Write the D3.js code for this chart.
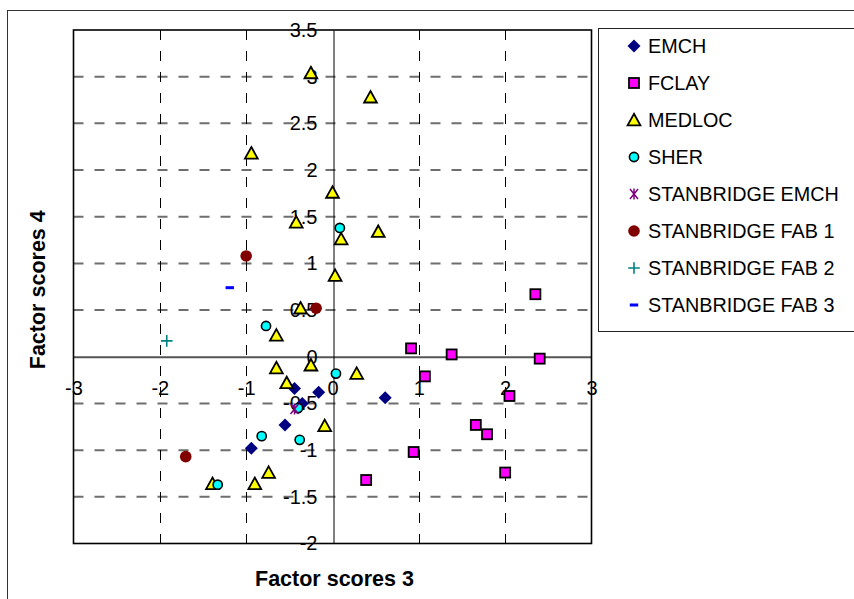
<!DOCTYPE html>
<html>
<head>
<meta charset="utf-8">
<script src="https://cdn.jsdelivr.net/npm/d3@7"></script>
<style>
  html, body { margin: 0; padding: 0; background: #fff; }
  svg { display: block; font-family: Arial, "Liberation Sans", sans-serif; }
</style>
</head>
<body>
<svg id="chart" width="854" height="599"></svg>
<script>
// Factor score pairs [factor 3, factor 4] for each group
const emch = [[-0.44, -0.34], [-0.16, -0.38], [-0.35, -0.50], [-0.55, -0.73], [-0.94, -0.98], [0.61, -0.44]];
const fclay = [[2.35, 0.67], [0.91, 0.09], [1.38, 0.025], [2.40, -0.02], [1.07, -0.21], [2.05, -0.42],
               [1.66, -0.73], [1.79, -0.83], [0.94, -1.02], [2.00, -1.24], [0.39, -1.32]];
const medloc = [[-0.25, 3.04], [0.44, 2.78], [-0.94, 2.18], [0.00, 1.76], [-0.42, 1.44], [0.10, 1.26],
                [0.53, 1.34], [0.03, 0.87], [-0.37, 0.52], [-0.65, 0.23], [-0.65, -0.12], [-0.25, -0.09],
                [0.28, -0.18], [-0.53, -0.28], [-0.09, -0.74], [-0.74, -1.24], [-0.90, -1.36], [-1.39, -1.36]];
const sher = [[0.085, 1.38], [-0.77, 0.33], [0.04, -0.18], [-0.82, -0.85], [-0.38, -0.89], [-1.33, -1.37], [-0.40, -0.55]];
const stanEmch = [[-0.44, -0.56]];
const stanFab1 = [[-1.00, 1.08], [-0.19, 0.52], [-1.70, -1.07]];
const stanFab2 = [[-1.92, 0.17]];
const stanFab3 = [[-1.19, 0.74]];

const seriesNames = ["EMCH", "FCLAY", "MEDLOC", "SHER", "STANBRIDGE EMCH", "STANBRIDGE FAB 1", "STANBRIDGE FAB 2", "STANBRIDGE FAB 3"];
const seriesData = [emch, fclay, medloc, sher, stanEmch, stanFab1, stanFab2, stanFab3];

const xTicks = [-3, -2, -1, 0, 1, 2, 3];
const yTicks = [-2, -1.5, -1, -0.5, 0, 0.5, 1, 1.5, 2, 2.5, 3, 3.5];

const xTitle = "Factor scores 3";
const yTitle = "Factor scores 4";

// Marker shapes, drawn around (0,0)
const markers = [
  { kind: "diamond",  fill: "#000080", stroke: "none" },
  { kind: "square",   fill: "#FF00FF", stroke: "#000" },
  { kind: "triangle", fill: "#FFFF00", stroke: "#000" },
  { kind: "circle",   fill: "#00FFFF", stroke: "#000" },
  { kind: "star",     fill: "none",    stroke: "#800080" },
  { kind: "dot",      fill: "#800000", stroke: "none" },
  { kind: "plus",     fill: "none",    stroke: "#008080" },
  { kind: "dash",     fill: "none",    stroke: "#0000FF" }
];

function drawMarker(g, m) {
  switch (m.kind) {
    case "diamond":
      g.append("path").attr("d", "M0,-6.5L6.5,0L0,6.5L-6.5,0Z").attr("fill", m.fill);
      break;
    case "square":
      g.append("rect").attr("x", -5).attr("y", -5).attr("width", 10).attr("height", 10)
        .attr("fill", m.fill).attr("stroke", m.stroke).attr("stroke-width", 1.8);
      break;
    case "triangle":
      g.append("path").attr("d", "M0,-6.2L6.4,5.3L-6.4,5.3Z")
        .attr("fill", m.fill).attr("stroke", m.stroke).attr("stroke-width", 1.8).attr("stroke-linejoin", "miter");
      break;
    case "circle":
      g.append("circle").attr("r", 4.6)
        .attr("fill", m.fill).attr("stroke", m.stroke).attr("stroke-width", 1.6);
      break;
    case "star":
      g.append("path").attr("d", "M-4,-5L4,5M-4,5L4,-5M0,-5.5L0,5.5")
        .attr("stroke", m.stroke).attr("stroke-width", 1.5);
      break;
    case "dot":
      g.append("circle").attr("r", 5.8).attr("fill", m.fill);
      break;
    case "plus":
      g.append("path").attr("d", "M-5.8,0L5.8,0M0,-5.8L0,5.8")
        .attr("stroke", m.stroke).attr("stroke-width", 1.6);
      break;
    case "dash":
      g.append("path").attr("d", "M-4.2,0L4.2,0")
        .attr("stroke", m.stroke).attr("stroke-width", 3);
      break;
  }
}

const svg = d3.select("#chart");

// Chart area frame
svg.append("rect").attr("x", 7.5).attr("y", 10.5).attr("width", 900).attr("height", 700)
  .attr("fill", "#fff").attr("stroke", "#333").attr("stroke-width", 1);

const plot = { left: 73.5, right: 591.5, top: 30, bottom: 543.5 };

const x = d3.scaleLinear().domain([-3, 3]).range([plot.left, plot.right]);
const y = d3.scaleLinear().domain([-2, 3.5]).range([plot.bottom, plot.top]);

// Dashed gridlines
const grid = svg.append("g");
grid.selectAll("line.h").data(yTicks.filter(v => v !== 0 && v !== -2 && v !== 3.5)).join("line")
  .attr("x1", plot.left).attr("x2", plot.right)
  .attr("y1", d => y(d)).attr("y2", d => y(d))
  .attr("stroke", "#6e6e6e").attr("stroke-width", 2).attr("stroke-dasharray", "10,11");
grid.selectAll("line.v").data(xTicks.filter(v => v !== 0 && v !== -3 && v !== 3)).join("line")
  .attr("x1", d => Math.round(x(d)) + 0.5).attr("x2", d => Math.round(x(d)) + 0.5)
  .attr("y1", plot.top).attr("y2", plot.bottom)
  .attr("stroke", "#000").attr("stroke-width", 1).attr("stroke-dasharray", "10,11");

// Axes crossing at the origin
const fmt = d => String(d);
const xAxis = svg.append("g").attr("transform", `translate(0,${y(0)})`)
  .call(d3.axisBottom(x).tickValues(xTicks).tickFormat(fmt).tickSize(0).tickPadding(24.5));
const yAxis = svg.append("g").attr("transform", `translate(${Math.round(x(0)) + 0.5},0)`)
  .call(d3.axisLeft(y).tickValues(yTicks).tickFormat(fmt).tickSize(0).tickPadding(16));

xAxis.select(".domain").attr("stroke", "#555").attr("stroke-width", 2);
yAxis.select(".domain").attr("stroke", "#000").attr("stroke-width", 1);
[xAxis, yAxis].forEach(a => a.selectAll("text")
  .attr("font-size", 20).attr("fill", "#000").attr("font-family", "Arial, 'Liberation Sans', sans-serif"));

// Plot area border
svg.append("rect").attr("x", plot.left).attr("y", plot.top)
  .attr("width", plot.right - plot.left).attr("height", plot.bottom - plot.top)
  .attr("fill", "none").attr("stroke", "#000").attr("stroke-width", 1.6);

// Points
const pts = svg.append("g");
seriesData.forEach((data, i) => {
  pts.append("g").selectAll("g").data(data).join("g")
    .attr("transform", d => `translate(${x(d[0])},${y(d[1])})`)
    .each(function () { drawMarker(d3.select(this), markers[i]); });
});

// Axis titles
svg.append("text").attr("x", (plot.left + plot.right) / 2 + 2).attr("y", 586)
  .attr("text-anchor", "middle").attr("font-size", 21.5).attr("font-weight", "bold").text(xTitle);
svg.append("text").attr("transform", `translate(45,${(plot.top + plot.bottom) / 2 + 3}) rotate(-90)`)
  .attr("text-anchor", "middle").attr("font-size", 21.5).attr("font-weight", "bold").text(yTitle);

// Legend
const legend = svg.append("g");
legend.append("rect").attr("x", 598.5).attr("y", 28.5).attr("width", 300).attr("height", 303)
  .attr("fill", "#fff").attr("stroke", "#222").attr("stroke-width", 1);
seriesNames.forEach((name, i) => {
  const row = legend.append("g").attr("transform", `translate(0,${46 + i * 37})`);
  drawMarker(row.append("g").attr("transform", "translate(634,0)"), markers[i]);
  row.append("text").attr("x", 648).attr("y", 0).attr("dy", "0.35em")
    .attr("font-size", 19.8).attr("fill", "#000").text(name);
});
</script>
</body>
</html>
